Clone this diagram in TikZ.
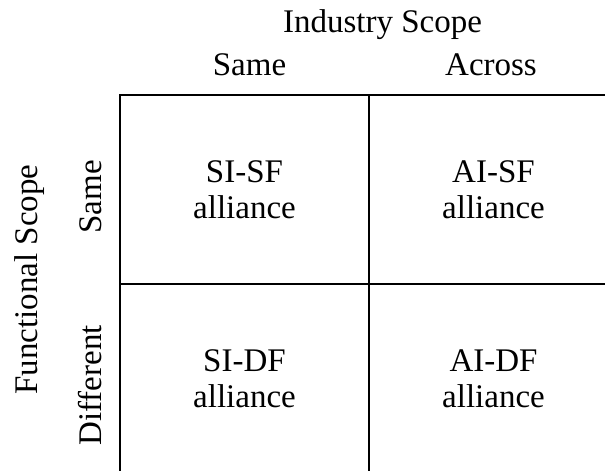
\documentclass[tikz,border=0pt]{standalone}
\usepackage{fontspec}
\setmainfont{Liberation Serif}

\begin{document}
\begin{tikzpicture}[x=1pt,y=1pt,
		lbl/.style={font=\fontsize{33}{36}\selectfont, inner sep=0pt},
		cell/.style={lbl, align=center},
		grid/.style={line width=1.6pt}]
			\useasboundingbox (0,0) rectangle (605,471);
			\clip (0,0) rectangle (605,471);
			% matrix lines, right and bottom edges run off the page
			\draw[grid](120,-10) -- (120,376) -- (630,376);
			\draw[grid](369,-10) -- (369,376);
			\draw[grid](120,187) -- (630,187);
			% column headings
			\node[lbl, anchor=base] (indscope) at (382.5,438) {Industry Scope};
			\node[lbl, anchor=base] (colsame) at (249.5,395) {Same};
			\node[lbl, anchor=base] (colacross) at (491,395) {Across};
			% row headings
			\node[lbl, anchor=base, rotate=90] (funscope) at (37,191.5) {Functional Scope};
			\node[lbl, anchor=base, rotate=90] (rowsame) at (101,274) {Same};
			\node[lbl, anchor=base, rotate=90] (rowdiff) at (101,85.5) {Different};
			% cells
			\node[cell] (sisf) at (244.5,281.5) {SI-SF\\alliance};
			\node[cell] (aisf) at (493.5,281.5) {AI-SF\\alliance};
			\node[cell] (sidf) at (244.5,92.5) {SI-DF\\alliance};
			\node[cell] (aidf) at (493.5,92.5) {AI-DF\\alliance};
		\end{tikzpicture}
\end{document}
